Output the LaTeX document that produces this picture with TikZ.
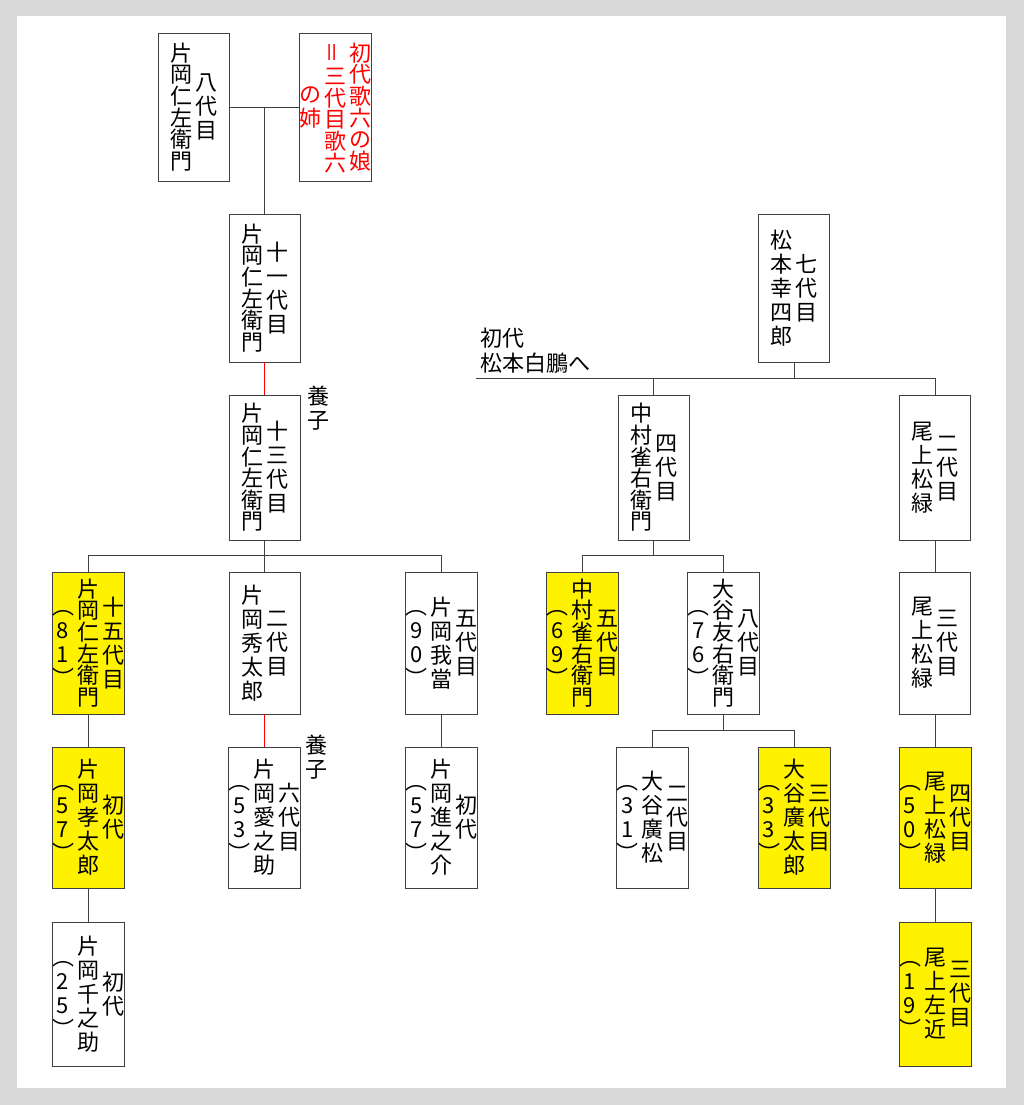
\documentclass[tikz,border=0pt]{standalone}
\usepackage{fontspec}
\newfontfamily\jfont{Noto Sans CJK JP}
\definecolor{bggray}{HTML}{D9D9D9}
\definecolor{linegray}{HTML}{404040}

% vertical writing: one character per row
\def\tatesplit#1{\ifx\relax#1\else#1\cr\expandafter\tatesplit\fi}
\newcommand{\tatestrut}{\vphantom{目}}
\newcommand{\tate}[2][24pt]{$\vcenter{\baselineskip=#1\lineskiplimit=-\maxdimen\lineskip=0pt\halign{\hfil\tatestrut##\hfil\cr\tatesplit#2\relax}}$}
\newcommand{\tsep}{\kern3pt}

\begin{document}
\begin{tikzpicture}[
    x=1pt, y=-1pt,
    box/.style={rectangle, draw=linegray, line width=0.9pt, fill=white, minimum width=71pt, inner sep=0pt, font=\jfont\fontsize{22pt}{24pt}\selectfont},
    ybox/.style={box, fill=yellow},
    line/.style={draw=linegray, line width=0.9pt},
    redline/.style={draw=red, line width=0.9pt},
    note/.style={inner sep=0pt, font=\jfont\fontsize{22pt}{25pt}\selectfont}
]
\useasboundingbox (0,0) rectangle (1024,1105);
\fill[bggray] (0,0) rectangle (1024,1105);
\fill[white] (17,16) rectangle (1006,1088);

% Kataoka family (left)
\node[box, minimum height=148pt] (nizae8) at (194,107) {\tate[21.6pt]{片岡仁左衛門}\tsep\tate{八代目}};
\node[box, minimum height=148pt, text=red] (utaroku) at (335,107) {\tate{の姉}\tsep\tate[21.6pt]{{\rotatebox{90}{＝}}三代目歌六}\tsep\tate[21.6pt]{初代歌六の娘}};
\node[box, minimum height=148pt] (nizae11) at (264.5,288) {\tate[21.6pt]{片岡仁左衛門}\tsep\tate{十一代目}};
\node[box, minimum height=145pt] (nizae13) at (264.5,467.5) {\tate[21.6pt]{片岡仁左衛門}\tsep\tate{十三代目}};
\node[note] (yoshi13) at (318,408) {\tate{養子}};

\node[ybox, minimum height=142pt] (nizae15) at (88,643) {\tate{︵81︶}\tsep\tate[21.6pt]{片岡仁左衛門}\tsep\tate{十五代目}};
\node[box, minimum height=142pt] (hidetaro) at (264.5,643) {\tate{片岡秀太郎}\tsep\tate{二代目}};
\node[box, minimum height=142pt] (gato) at (441.5,643) {\tate{︵90︶}\tsep\tate{片岡我當}\tsep\tate{五代目}};

\node[ybox, minimum height=141pt] (takataro) at (88,817.5) {\tate{︵57︶}\tsep\tate{片岡孝太郎}\tsep\tate{初代}};
\node[box, minimum height=141pt] (ainosuke) at (264.5,817.5) {\tate{︵53︶}\tsep\tate{片岡愛之助}\tsep\tate{六代目}};
\node[box, minimum height=141pt] (shinnosuke) at (441.5,817.5) {\tate{︵57︶}\tsep\tate{片岡進之介}\tsep\tate{初代}};
\node[note] (yoshi6) at (316,757) {\tate{養子}};

\node[box, minimum height=144pt] (sennosuke) at (88,994) {\tate{︵25︶}\tsep\tate{片岡千之助}\tsep\tate{初代}};

\draw[line] (nizae8) -- (utaroku);
\draw[line] (nizae11.north |- nizae8.east) -- (nizae11.north);
\draw[redline] (nizae11) -- (nizae13);
\draw[line] (nizae13) -- (hidetaro);
\draw[line] (nizae15.north) -- ++(0,-16) -| (gato.north);
\draw[line] (nizae15) -- (takataro);
\draw[line] (takataro) -- (sennosuke);
\draw[redline] (hidetaro) -- (ainosuke);
\draw[line] (gato) -- (shinnosuke);

% Matsumoto family (right)
\node[box, minimum height=148pt] (koshiro7) at (794,288) {\tate{松本幸四郎}\tsep\tate{七代目}};
\node[note, anchor=south west, inner xsep=4pt, inner ysep=4pt, align=left] (hakuo) at (476,378) {初代\\松本白鵬へ};

\node[box, minimum height=145pt] (jakuemon4) at (653.5,467.5) {\tate[21.6pt]{中村雀右衛門}\tsep\tate{四代目}};
\node[box, minimum height=145pt] (shoroku2) at (935,467.5) {\tate{尾上松緑}\tsep\tate{二代目}};

\node[ybox, minimum height=142pt] (jakuemon5) at (582.5,643) {\tate{︵69︶}\tsep\tate[21.6pt]{中村雀右衛門}\tsep\tate{五代目}};
\node[box, minimum height=142pt] (tomoemon8) at (723.5,643) {\tate{︵76︶}\tsep\tate[21.6pt]{大谷友右衛門}\tsep\tate{八代目}};
\node[box, minimum height=142pt] (shoroku3) at (935,643) {\tate{尾上松緑}\tsep\tate{三代目}};

\node[box, minimum height=141pt] (hiromatsu) at (652.5,817.5) {\tate{︵31︶}\tsep\tate{大谷廣松}\tsep\tate{二代目}};
\node[ybox, minimum height=141pt] (hirotaro) at (794,817.5) {\tate{︵33︶}\tsep\tate{大谷廣太郎}\tsep\tate{三代目}};
\node[ybox, minimum height=141pt] (shoroku4) at (935,817.5) {\tate{︵50︶}\tsep\tate{尾上松緑}\tsep\tate{四代目}};

\node[ybox, minimum height=144pt] (sakon) at (935,994) {\tate{︵19︶}\tsep\tate{尾上左近}\tsep\tate{三代目}};

\draw[line] (koshiro7.south) -- (koshiro7.south |- hakuo.south west);
\draw[line] (hakuo.south west) -| (shoroku2.north);
\draw[line] (jakuemon4.north) -- (jakuemon4.north |- hakuo.south west);
\draw[line] (jakuemon4.south) -- ++(0,16);
\draw[line] (jakuemon5.north) -- ++(0,-16) -| (tomoemon8.north);
\draw[line] (tomoemon8.south) -- ++(0,17);
\draw[line] (hiromatsu.north) -- ++(0,-16) -| (hirotaro.north);
\draw[line] (shoroku2) -- (shoroku3);
\draw[line] (shoroku3) -- (shoroku4);
\draw[line] (shoroku4) -- (sakon);

\end{tikzpicture}
\end{document}
